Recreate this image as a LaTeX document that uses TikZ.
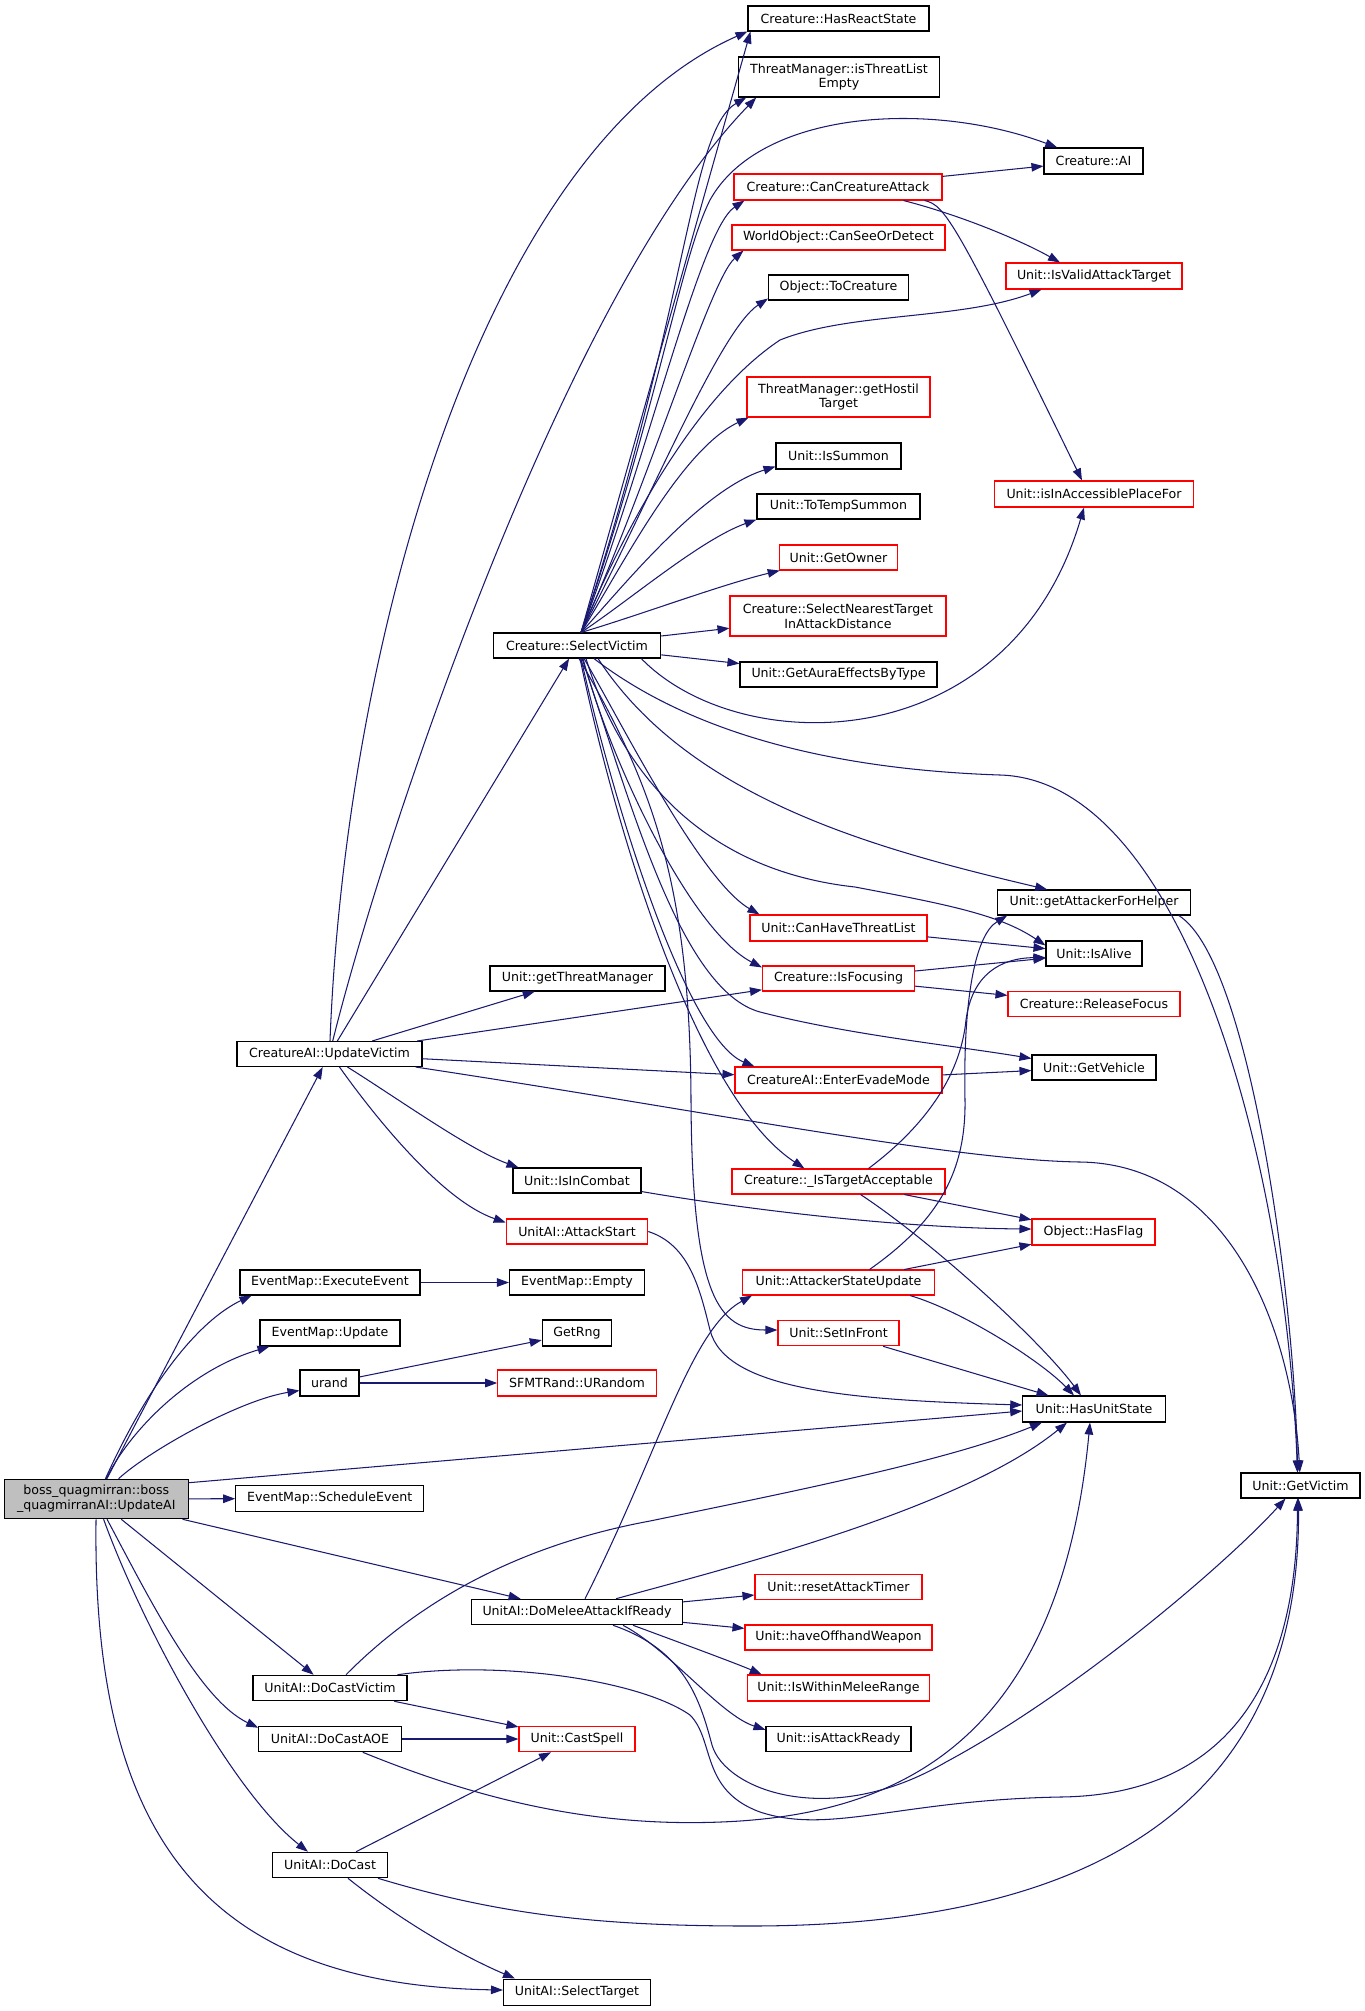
\documentclass[tikz,border=0pt]{standalone}
\usepackage{fontspec}
\setmainfont{DejaVu Sans}
\usetikzlibrary{arrows.meta}
\definecolor{edgecol}{HTML}{191970}
\definecolor{boxgray}{HTML}{BFBFBF}
\begin{document}
\begin{tikzpicture}[x=1pt,y=-1pt,
  box/.style={draw=black, line width=1.05pt, rectangle, inner sep=0pt, minimum height=25.5pt,
    font=\fontsize{12.6}{14.8}\selectfont, align=center},
  rbox/.style={box, draw=red},
  tall/.style={minimum height=40pt},
  e/.style={draw=edgecol, line width=1.05pt, -{Triangle[length=12pt,width=8.5pt]}}]
\fill[white] (0,0) rectangle (1365,2011);
\useasboundingbox (0,0) rectangle (1365,2011);
% column 0
\node[box, fill=boxgray, minimum width=183.5pt, minimum height=39.5pt] (boss) at (96.3,1499) {boss\_quagmirran::boss\\\_quagmirranAI::UpdateAI};
% column 1
\node[box, minimum width=188pt] (sched) at (329.7,1498.5) {EventMap::ScheduleEvent};
\node[box, minimum width=185pt, minimum height=25pt] (uv) at (329.5,1054) {CreatureAI::UpdateVictim};
\node[box, minimum width=180pt, minimum height=25pt] (exec) at (330,1282.5) {EventMap::ExecuteEvent};
\node[box, minimum width=140pt, minimum height=26pt] (emupd) at (330,1333) {EventMap::Update};
\node[box, minimum width=59pt, minimum height=26pt] (urand) at (329.5,1383) {urand};
\node[box, minimum width=154pt] (dcv) at (330,1688) {UnitAI::DoCastVictim};
\node[box, minimum width=142.5pt] (dcaoe) at (330,1739) {UnitAI::DoCastAOE};
\node[box, minimum width=115pt] (dc) at (330,1865) {UnitAI::DoCast};
% column 2
\node[box, minimum width=167.5pt, minimum height=25pt] (sv) at (577,645.5) {Creature::SelectVictim};
\node[box, minimum width=175pt, minimum height=25pt] (gtm) at (577.5,978.5) {Unit::getThreatManager};
\node[box, minimum width=128pt, minimum height=25pt] (inc) at (577,1180.5) {Unit::IsInCombat};
\node[rbox, minimum width=141.5pt, minimum height=25pt] (ast) at (577,1231.5) {UnitAI::AttackStart};
\node[box, minimum width=135pt, minimum height=25pt] (empty) at (577,1282.5) {EventMap::Empty};
\node[box, minimum width=69.5pt, minimum height=26pt] (getrng) at (577,1333) {GetRng};
\node[rbox, minimum width=158.5pt, minimum height=26pt] (urandom) at (577,1383) {SFMTRand::URandom};
\node[box, minimum width=211pt] (dmelee) at (577,1612) {UnitAI::DoMeleeAttackIfReady};
\node[rbox, minimum width=116pt] (cast) at (577,1739) {Unit::CastSpell};
\node[box, minimum width=147pt, minimum height=26pt] (seltgt) at (577,1992) {UnitAI::SelectTarget};
% column 3
\node[box, minimum width=181pt, minimum height=25pt] (hrs) at (838.5,18.5) {Creature::HasReactState};
\node[box, tall, minimum width=200.5pt] (itle) at (839,77) {ThreatManager::isThreatList\\Empty};
\node[rbox, minimum width=208pt, minimum height=26pt] (cca) at (838,187) {Creature::CanCreatureAttack};
\node[rbox, minimum width=213pt, minimum height=25pt] (csod) at (838.5,237.5) {WorldObject::CanSeeOrDetect};
\node[box, minimum width=140pt, minimum height=25pt] (toc) at (838.5,287.5) {Object::ToCreature};
\node[rbox, tall, minimum width=183pt] (ght) at (838.5,397) {ThreatManager::getHostil\\Target};
\node[box, minimum width=125pt, minimum height=26pt] (isum) at (838.5,456) {Unit::IsSummon};
\node[box, minimum width=163pt, minimum height=25pt] (tts) at (838.5,506.5) {Unit::ToTempSummon};
\node[rbox, minimum width=118.5pt, minimum height=25pt] (gown) at (838.5,557.5) {Unit::GetOwner};
\node[rbox, tall, minimum width=216pt] (snt) at (838,616) {Creature::SelectNearestTarget\\InAttackDistance};
\node[box, minimum width=197pt, minimum height=25pt] (gaet) at (838.5,674.5) {Unit::GetAuraEffectsByType};
\node[rbox, minimum width=177pt, minimum height=26pt] (chtl) at (838.5,928) {Unit::CanHaveThreatList};
\node[rbox, minimum width=152pt, minimum height=25pt] (ifoc) at (838.5,978.5) {Creature::IsFocusing};
\node[rbox, minimum width=207pt, minimum height=26pt] (eem) at (838.5,1080) {CreatureAI::EnterEvadeMode};
\node[rbox, minimum width=213pt, minimum height=25pt] (ita) at (838.5,1181.5) {Creature::\_IsTargetAcceptable};
\node[rbox, minimum width=192pt, minimum height=25pt] (asu) at (838.5,1282.5) {Unit::AttackerStateUpdate};
\node[rbox, minimum width=121pt] (sif) at (838.5,1333) {Unit::SetInFront};
\node[rbox, minimum width=167pt] (rat) at (838.5,1587) {Unit::resetAttackTimer};
\node[rbox, minimum width=187pt, minimum height=25pt] (how) at (838.5,1637.5) {Unit::haveOffhandWeapon};
\node[rbox, minimum width=182.5pt, minimum height=26pt] (iwmr) at (838.5,1688) {Unit::IsWithinMeleeRange};
\node[box, minimum width=145pt] (iar) at (838.5,1739) {Unit::isAttackReady};
% column 4
\node[box, minimum width=99pt, minimum height=26pt] (ai) at (1093.5,161) {Creature::AI};
\node[rbox, minimum width=176pt, minimum height=26pt] (ivat) at (1094,276) {Unit::IsValidAttackTarget};
\node[rbox, minimum width=198.5pt, minimum height=26pt] (iapf) at (1094,494) {Unit::isInAccessiblePlaceFor};
\node[box, minimum width=192.5pt, minimum height=25pt] (gafh) at (1094,902.5) {Unit::getAttackerForHelper};
\node[box, minimum width=96pt, minimum height=25pt] (alive) at (1094,953.5) {Unit::IsAlive};
\node[rbox, minimum width=172pt] (relf) at (1094,1004) {Creature::ReleaseFocus};
\node[box, minimum width=124pt, minimum height=25pt] (gveh) at (1094,1067.5) {Unit::GetVehicle};
\node[rbox, minimum width=123pt, minimum height=26pt] (hflag) at (1093.5,1232) {Object::HasFlag};
\node[box, minimum width=142.5pt, minimum height=26pt] (hus) at (1094,1409) {Unit::HasUnitState};
% column 5
\node[box, minimum width=119pt, minimum height=25pt] (gvic) at (1300.5,1485.5) {Unit::GetVictim};

% ---- edges from boss
\draw[e] (boss) -- (uv);
\draw[e] (boss) .. controls (150,1380) and (200,1320) .. ([xshift=12pt]exec.south west);
\draw[e] (boss) .. controls (130,1430) and (190,1370) .. ([xshift=10pt]emupd.south west);
\draw[e] (boss) .. controls (150,1450) and (240,1400) .. ([yshift=6pt]urand.south west);
\draw[e] ([yshift=-4pt]boss.north east) -- ([yshift=-2pt]hus.west);
\draw[e] (boss) -- (sched);
\draw[e] (boss) -- (dmelee);
\draw[e] (boss) -- (dcv);
\draw[e] (boss) .. controls (150,1600) and (200,1700) .. ([yshift=-2pt]dcaoe.north west);
\draw[e] (boss) .. controls (140,1620) and (230,1790) .. ([xshift=36pt]dc.north west);
\draw[e] (boss) .. controls (92,1830) and (200,1985) .. ([yshift=2pt]seltgt.west);
% ---- edges from UpdateVictim
\draw[e] (uv) .. controls (345,650) and (480,150) .. (hrs.south west);
\draw[e] (uv) .. controls (380,850) and (560,300) .. ([xshift=18pt]itle.south west);
\draw[e] (uv) -- (sv);
\draw[e] (uv) -- (gtm);
\draw[e] (uv) -- (ifoc);
\draw[e] (uv) -- (eem);
\draw[e] (uv) .. controls (700,1110) and (950,1160) .. (1080,1162) .. controls (1230,1164) and (1292,1330) .. (gvic);
\draw[e] ([xshift=18pt]uv.south) .. controls (400,1100) and (470,1150) .. ([xshift=6pt]inc.north west);
\draw[e] ([xshift=10pt]uv.south) .. controls (370,1110) and (440,1200) .. ([yshift=-4pt]ast.north west);
% ---- edges from SelectVictim
\draw[e] ([xshift=4pt]sv.north) -- ([xshift=3pt]hrs.south west);
\draw[e] ([xshift=4pt]sv.north) .. controls (690,300) and (690,130) .. ([xshift=8pt]itle.south west);
\draw[e] ([xshift=4pt]sv.north) .. controls (660,400) and (680,260) .. (710,200) .. controls (760,110) and (930,100) .. (ai);
\draw[e] ([xshift=4pt]sv.north) .. controls (650,450) and (700,230) .. ([xshift=11pt]cca.south west);
\draw[e] ([xshift=4pt]sv.north) .. controls (650,480) and (710,280) .. ([xshift=12pt]csod.south west);
\draw[e] ([xshift=4pt]sv.north) .. controls (650,500) and (720,330) .. ([yshift=2pt]toc.south west);
\draw[e] ([xshift=4pt]sv.north) .. controls (620,540) and (690,400) .. (780,340) .. controls (850,312) and (960,320) .. ([xshift=36pt]ivat.south west);
\draw[e] ([xshift=4pt]sv.north) .. controls (620,570) and (680,450) .. ([xshift=2pt]ght.south west);
\draw[e] ([xshift=4pt]sv.north) .. controls (620,590) and (700,490) .. ([yshift=3pt]isum.south west);
\draw[e] ([xshift=4pt]sv.north) .. controls (630,600) and (700,540) .. (tts.south west);
\draw[e] ([xshift=4pt]sv.north) .. controls (640,615) and (720,585) .. ([xshift=1pt]gown.south west);
\draw[e] (sv) -- (snt);
\draw[e] (sv) -- (gaet);
\draw[e] ([xshift=-20pt]sv.south east) .. controls (740,760) and (1010,760) .. ([xshift=-10pt]iapf.south);
\draw[e] (sv) .. controls (700,740) and (850,770) .. (1000,775) .. controls (1180,780) and (1285,1150) .. ([xshift=-3pt]gvic.north);
\draw[e] ([xshift=21pt]sv.south) .. controls (690,800) and (880,850) .. ([xshift=50pt]gafh.north west);
\draw[e] ([xshift=9pt]sv.south) .. controls (620,770) and (700,870) .. (855,887) .. controls (950,905) and (1000,915) .. ([yshift=-5pt]alive.north west);
\draw[e] ([xshift=7pt]sv.south) .. controls (620,720) and (700,880) .. ([xshift=10pt]chtl.north west);
\draw[e] ([xshift=6pt]sv.south) .. controls (610,760) and (690,930) .. ([yshift=-2pt]ifoc.north west);
\draw[e] ([xshift=5pt]sv.south) .. controls (630,800) and (680,990) .. (760,1012) .. controls (850,1035) and (950,1045) .. ([yshift=-4pt]gveh.north west);
\draw[e] ([xshift=4pt]sv.south) .. controls (620,830) and (690,1040) .. ([xshift=20pt]eem.north west);
\draw[e] ([xshift=3pt]sv.south) .. controls (620,850) and (700,1100) .. ([xshift=73pt]ita.north west);
\draw[e] ([xshift=2pt]sv.south) .. controls (650,780) and (690,880) .. (691,1100) .. controls (692,1300) and (720,1330) .. ([yshift=3pt]sif.west);
% ---- CanCreatureAttack
\draw[e] (cca) -- (ai);
\draw[e] ([xshift=-39pt]cca.south east) .. controls (960,215) and (1020,240) .. ([xshift=-34pt]ivat.north);
\draw[e] ([xshift=-18pt]cca.south east) .. controls (945,205) and (955,220) .. ([xshift=-12pt]iapf.north);
% ---- middle column
\draw[e] (chtl) -- (alive);
\draw[e] (ifoc) -- (alive);
\draw[e] (ifoc) -- (relf);
\draw[e] (eem) -- (gveh);
\draw[e] ([xshift=30pt]ita.north) .. controls (920,1130) and (960,1080) .. (966,1020) .. controls (972,975) and (1000,958) .. ([yshift=-4pt]alive.west);
\draw[e] (ita) -- (hflag);
\draw[e] ([xshift=22pt]ita.south) .. controls (930,1240) and (1040,1340) .. ([xshift=-13pt]hus.north);
\draw[e] ([xshift=31pt]asu.north) .. controls (940,1220) and (966,1170) .. (965,1100) .. controls (963,1000) and (975,935) .. ([xshift=10pt]gafh.south west);
\draw[e] (asu) -- (hflag);
\draw[e] ([xshift=-25pt]asu.south east) .. controls (960,1310) and (1040,1360) .. ([xshift=-20pt]hus.north);
\draw[e] (sif) -- (hus);
\draw[e] (ast.east) .. controls (690,1245) and (700,1290) .. (710,1330) .. controls (725,1390) and (850,1400) .. ([yshift=4pt]hus.west);
\draw[e] ([yshift=2pt]inc.south east) .. controls (750,1210) and (900,1228) .. ([yshift=3pt]hflag.west);
\draw[e] (exec) -- (empty);
\draw[e] (urand) -- (getrng);
\draw[e] (urand) -- (urandom);
\draw[e] ([xshift=-12pt]gafh.south east) .. controls (1250,960) and (1295,1300) .. ([xshift=-3pt]gvic.north);
% ---- DoMeleeAttackIfReady
\draw[e] ([xshift=8pt]dmelee.north) .. controls (660,1450) and (690,1330) .. ([xshift=10pt]asu.south west);
\draw[e] ([xshift=39pt]dmelee.north) .. controls (720,1570) and (960,1510) .. ([xshift=-27pt]hus.south);
\draw[e] (dmelee) -- (rat);
\draw[e] (dmelee) -- (how);
\draw[e] ([xshift=-50pt]dmelee.south east) .. controls (700,1650) and (740,1665) .. ([xshift=15pt]iwmr.north west);
\draw[e] ([xshift=-60pt]dmelee.south east) .. controls (670,1650) and (720,1715) .. ([yshift=-4pt]iar.north west);
\draw[e] ([xshift=-70pt]dmelee.south east) .. controls (685,1650) and (700,1700) .. (712,1745) .. controls (725,1790) and (830,1830) .. (946,1762) .. controls (1080,1690) and (1230,1560) .. ([xshift=-15pt]gvic.south);
% ---- DoCastVictim / DoCastAOE / DoCast
\draw[e] ([xshift=16pt]dcv.north) .. controls (420,1600) and (520,1545) .. (650,1521) .. controls (800,1490) and (950,1460) .. ([xshift=-52pt]hus.south);
\draw[e] (dcv) -- (cast);
\draw[e] ([xshift=-10pt]dcv.north east) .. controls (500,1660) and (640,1680) .. (690,1715) .. controls (715,1740) and (700,1790) .. (760,1812) .. controls (830,1835) and (900,1800) .. (1060,1797) .. controls (1250,1795) and (1297,1650) .. ([xshift=-3pt]gvic.south);
\draw[e] (dcaoe) -- (cast);
\draw[e] ([xshift=-39pt]dcaoe.south east) .. controls (480,1800) and (600,1830) .. (740,1821) .. controls (900,1810) and (1060,1740) .. ([xshift=-4pt]hus.south);
\draw[e] (dc) -- (cast);
\draw[e] ([xshift=-10pt]dc.south east) .. controls (500,1915) and (600,1926) .. (750,1926) .. controls (1100,1926) and (1300,1800) .. ([xshift=-2pt]gvic.south);
\draw[e] ([xshift=18pt]dc.south) .. controls (400,1920) and (460,1955) .. ([xshift=12pt]seltgt.north west);
\end{tikzpicture}
\end{document}
